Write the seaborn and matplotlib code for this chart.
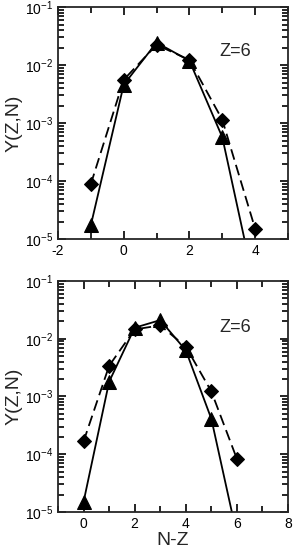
import matplotlib
matplotlib.use("Agg")
import matplotlib.pyplot as plt
import matplotlib.ticker as mticker
import pandas as pd
import seaborn as sns

# top panel
nz_top = [-1, 0, 1, 2, 3, 4]
tri_top = [1.74e-5, 4.6e-3, 2.45e-2, 1.19e-2, 5.7e-4, 1.4e-6]
dia_top = [8.9e-5, 5.6e-3, 2.24e-2, 1.23e-2, 1.14e-3, 1.5e-5]

# bottom panel
nz_bot = [0, 1, 2, 3, 4, 5, 6]
tri_bot = [1.5e-5, 1.8e-3, 1.55e-2, 2.1e-2, 6.3e-3, 4.1e-4, 4.0e-6]
dia_bot = [1.67e-4, 3.4e-3, 1.45e-2, 1.7e-2, 7.3e-3, 1.22e-3, 8.3e-5]

sns.set_style("ticks")
plt.rcParams["font.family"] = ["Liberation Sans", "DejaVu Sans"]
plt.rcParams["mathtext.fontset"] = "custom"
plt.rcParams["mathtext.rm"] = "Liberation Sans"
plt.rcParams["axes.unicode_minus"] = False

y_minor = [m * 10.0 ** e for e in range(-5, -1) for m in range(2, 10)]


def panel(ax, x, tri, dia, xlim, ztxt_y):
    df = pd.DataFrame({"x": x, "tri": tri, "dia": dia})
    sns.lineplot(data=df, x="x", y="tri", ax=ax, color="black", lw=1.3,
                 marker="^", markersize=10, markeredgecolor="black")
    sns.lineplot(data=df, x="x", y="dia", ax=ax, color="black", lw=1.3,
                 linestyle=(0, (6, 3)), marker="D", markersize=7,
                 markeredgecolor="black")
    ax.set_yscale("log")
    ax.set_ylim(1e-5, 1e-1)
    ax.set_xlim(*xlim)
    ax.xaxis.set_major_locator(mticker.MultipleLocator(2))
    ax.xaxis.set_minor_locator(mticker.MultipleLocator(1))
    ax.yaxis.set_minor_locator(mticker.FixedLocator(y_minor))
    ax.yaxis.set_minor_formatter(mticker.NullFormatter())
    ax.tick_params(which="major", direction="in", top=True, right=True,
                   labelsize=10, length=6, width=1.2, colors="black")
    ax.tick_params(which="minor", direction="in", top=True, right=True,
                   length=4, width=1.2, colors="black")
    for s in ax.spines.values():
        s.set_linewidth(1.3)
    ax.set_ylabel("Y(Z,N)", fontsize=14, labelpad=2)
    ax.text(0.70, ztxt_y, "Z=6", transform=ax.transAxes, fontsize=13)


fig, (ax1, ax2) = plt.subplots(2, 1, figsize=(2.93, 5.52), dpi=100)
ax1.set_position([0.198, 0.567, 0.785, 0.420])
ax2.set_position([0.198, 0.0725, 0.785, 0.4185])

panel(ax1, nz_top, tri_top, dia_top, (-2, 5), 0.79)
ax1.set_xlabel("")
panel(ax2, nz_bot, tri_bot, dia_bot, (-1, 8), 0.78)
ax2.set_xlabel("N-Z", fontsize=14, labelpad=1)

fig.savefig("out.png", dpi=100)
